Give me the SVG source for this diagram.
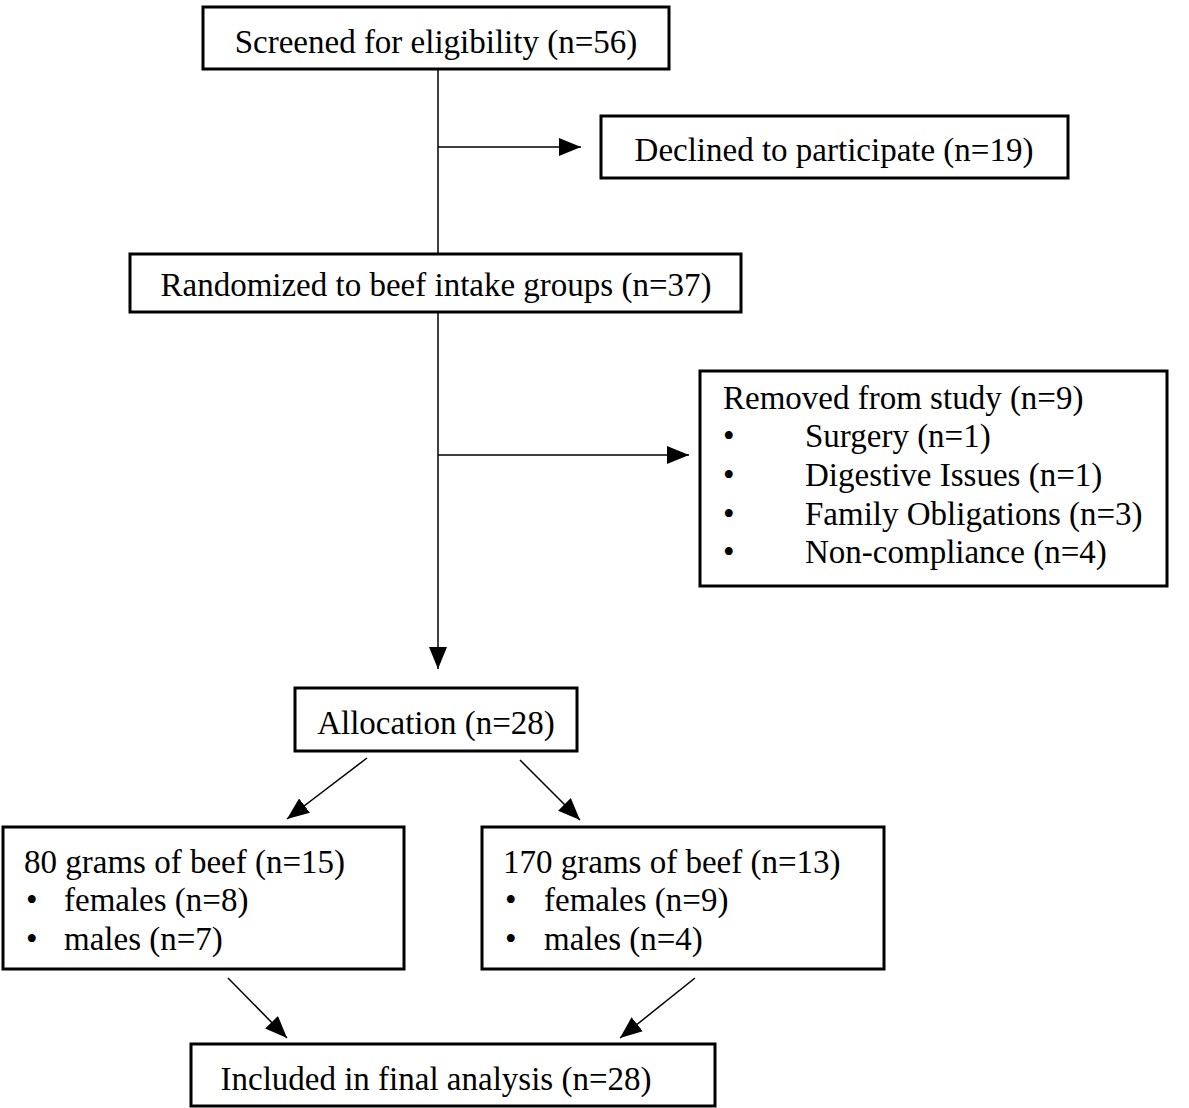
<svg xmlns="http://www.w3.org/2000/svg" width="1189" height="1108" viewBox="0 0 1189 1108">
<style>
rect{fill:#fff;stroke:#000;stroke-width:3}
text{font-family:"Liberation Serif","Times New Roman",serif;font-size:33px;fill:#000}
.c{text-anchor:middle}
#connectors line{stroke:#000;stroke-width:1.5}
</style>
<defs>
<marker id="ah" markerUnits="userSpaceOnUse" markerWidth="22" markerHeight="18" viewBox="0 0 22 18" refX="22" refY="9" orient="auto">
<path d="M0,0 L22,9 L0,18 Z" fill="#000"/>
</marker>
</defs>
<rect x="0" y="0" width="1189" height="1108" style="stroke:none"/>
<g id="connectors">
<line x1="438" y1="69" x2="438" y2="254"/>
<line x1="438" y1="147" x2="581" y2="147" marker-end="url(#ah)"/>
<line x1="438" y1="312" x2="438" y2="669" marker-end="url(#ah)"/>
<line x1="438" y1="455" x2="689" y2="455" marker-end="url(#ah)"/>
<line x1="367" y1="758" x2="287" y2="819" marker-end="url(#ah)"/>
<line x1="520" y1="760" x2="580" y2="820" marker-end="url(#ah)"/>
<line x1="228" y1="978" x2="287" y2="1038" marker-end="url(#ah)"/>
<line x1="695" y1="978" x2="620" y2="1038" marker-end="url(#ah)"/>
</g>
<g id="screened">
<rect x="203" y="7" width="466" height="62"/>
<text class="c" x="436" y="53">Screened for eligibility (n=56)</text>
</g>
<g id="declined">
<rect x="601" y="116" width="467" height="62"/>
<text class="c" x="834" y="161">Declined to participate (n=19)</text>
</g>
<g id="randomized">
<rect x="130" y="254" width="611" height="58"/>
<text class="c" x="436" y="296">Randomized to beef intake groups (n=37)</text>
</g>
<g id="removed">
<rect x="700" y="371" width="467" height="215"/>
<text x="723" y="409">Removed from study (n=9)</text>
<text x="723" y="447">•</text><text x="805" y="447">Surgery (n=1)</text>
<text x="723" y="486">•</text><text x="805" y="486">Digestive Issues (n=1)</text>
<text x="723" y="525">•</text><text x="805" y="525">Family Obligations (n=3)</text>
<text x="723" y="563">•</text><text x="805" y="563">Non-compliance (n=4)</text>
</g>
<g id="allocation">
<rect x="295" y="688" width="282" height="63"/>
<text class="c" x="436" y="734">Allocation (n=28)</text>
</g>
<g id="g80">
<rect x="3" y="827" width="401" height="142"/>
<text x="24" y="873">80 grams of beef (n=15)</text>
<text x="26" y="911">•</text><text x="64" y="911">females (n=8)</text>
<text x="26" y="950">•</text><text x="64" y="950">males (n=7)</text>
</g>
<g id="g170">
<rect x="482" y="827" width="402" height="142"/>
<text x="503" y="873">170 grams of beef (n=13)</text>
<text x="505" y="911">•</text><text x="544" y="911">females (n=9)</text>
<text x="505" y="950">•</text><text x="544" y="950">males (n=4)</text>
</g>
<g id="included">
<rect x="191" y="1044" width="524" height="62"/>
<text class="c" x="436" y="1090">Included in final analysis (n=28)</text>
</g>
</svg>
